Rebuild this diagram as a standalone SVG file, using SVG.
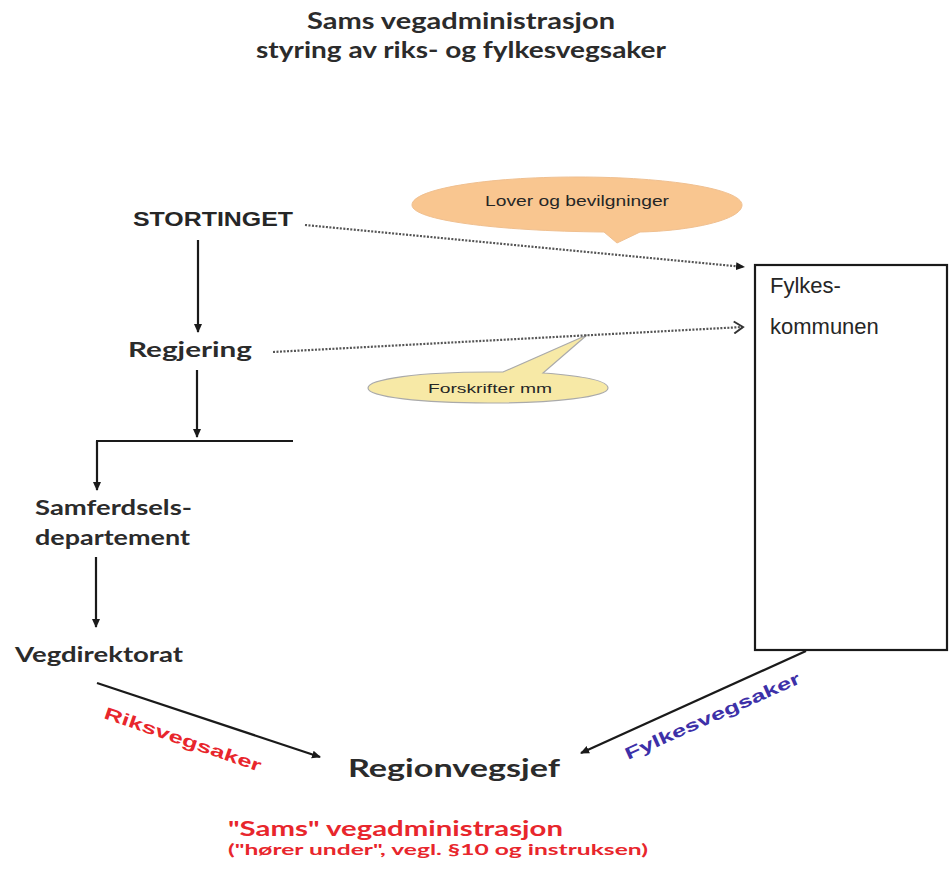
<svg xmlns="http://www.w3.org/2000/svg" width="951" height="881" viewBox="0 0 951 881">
<style>
.t{font-family:"Liberation Sans",Arial,sans-serif;fill:#262626}
.cal{font-family:Lato,"Open Sans",sans-serif;font-weight:bold;fill:#2b2b2b}
.red{fill:#e8262c}
.blue{fill:#3d30a8}
.solid{stroke:#1a1a1a;stroke-width:2.2;fill:none}
.dot{stroke:#555;stroke-width:2.2;fill:none;stroke-dasharray:2 1.5}
</style>
<defs>
<marker id="ah" markerWidth="10" markerHeight="10" refX="8" refY="5" orient="auto" markerUnits="userSpaceOnUse">
<path d="M0,1 L9,5 L0,9 Z" fill="#1a1a1a"/>
</marker>
<marker id="ao" markerWidth="14" markerHeight="14" refX="11" refY="7" orient="auto" markerUnits="userSpaceOnUse">
<path d="M2,1 L11,7 L2,13" fill="none" stroke="#333" stroke-width="2"/>
</marker>
</defs>
<rect width="951" height="881" fill="#fff"/>
<g id="title">
<text class="cal" x="461" y="29" font-size="22" text-anchor="middle" textLength="308" lengthAdjust="spacingAndGlyphs">Sams  vegadministrasjon</text>
<text class="cal" x="461" y="58" font-size="22" text-anchor="middle" textLength="410" lengthAdjust="spacingAndGlyphs">styring av riks- og fylkesvegsaker</text>
</g>
<g id="callout-lover">
<path d="M577,177 C668,177 742,189 742,205 C742,220 690,231 640,232 L617,243 L604,232 C495,231 412,220 412,205 C412,189 486,177 577,177 Z" fill="#f9c690" stroke="#f0c090" stroke-width="1"/>
<text class="t" x="577" y="206" font-size="14" text-anchor="middle" textLength="184" lengthAdjust="spacingAndGlyphs">Lover og bevilgninger</text>
</g>
<g id="callout-forskrifter">
<path d="M488,372 L503,372 L587,335 L543,373 C585,376 608,381 608,388 C608,397 554,403 488,403 C422,403 368,397 368,388 C368,379 420,372 488,372 Z" fill="#f7e9a6" stroke="#aaa" stroke-width="1.2"/>
<text class="t" x="490" y="393" font-size="13" text-anchor="middle" textLength="124" lengthAdjust="spacingAndGlyphs">Forskrifter mm</text>
</g>
<g id="connectors">
<line class="solid" x1="198" y1="240" x2="198" y2="332" marker-end="url(#ah)"/>
<line class="solid" x1="197" y1="370" x2="197" y2="437" marker-end="url(#ah)"/>
<line class="solid" x1="96" y1="441" x2="293" y2="441"/>
<line class="solid" x1="97" y1="441" x2="97" y2="490" marker-end="url(#ah)"/>
<line class="solid" x1="96" y1="557" x2="96" y2="627" marker-end="url(#ah)"/>
<line class="solid" x1="97" y1="683" x2="320" y2="757" marker-end="url(#ah)"/>
<line class="solid" x1="806" y1="651" x2="581" y2="753" marker-end="url(#ah)"/>
<line class="dot" x1="305" y1="225" x2="744" y2="267" marker-end="url(#ah)"/>
<line class="dot" x1="273" y1="352" x2="743" y2="327" marker-end="url(#ao)"/>
</g>
<g id="stortinget">
<text class="t" x="133" y="226" font-size="20" font-weight="bold" textLength="160" lengthAdjust="spacingAndGlyphs">STORTINGET</text>
</g>
<g id="regjering">
<text class="cal" x="128" y="357" font-size="21" textLength="124" lengthAdjust="spacingAndGlyphs">Regjering</text>
</g>
<g id="samferdsel">
<text class="cal" x="35" y="515" font-size="21" textLength="157" lengthAdjust="spacingAndGlyphs">Samferdsels-</text>
<text class="cal" x="35" y="545" font-size="21" textLength="155" lengthAdjust="spacingAndGlyphs">departement</text>
</g>
<g id="vegdirektorat">
<text class="cal" x="15" y="662" font-size="21" textLength="168" lengthAdjust="spacingAndGlyphs">Vegdirektorat</text>
</g>
<g id="fylkeskommunen">
<rect x="755" y="265" width="192" height="385" fill="#fff" stroke="#1a1a1a" stroke-width="2.2"/>
<text class="t" x="770" y="293" font-size="22">Fylkes-</text>
<text class="t" x="770" y="334" font-size="22">kommunen</text>
</g>
<g id="regionvegsjef">
<text class="cal" x="348" y="777" font-size="24" textLength="212" lengthAdjust="spacingAndGlyphs">Regionvegsjef</text>
</g>
<g id="labels">
<text class="t red" font-size="17" font-weight="bold" transform="translate(103,718) rotate(19)" textLength="165" lengthAdjust="spacingAndGlyphs">Riksvegsaker</text>
<text class="t blue" font-size="17" font-weight="bold" transform="translate(628,760) rotate(-24)" textLength="190" lengthAdjust="spacingAndGlyphs">Fylkesvegsaker</text>
</g>
<g id="footer">
<text class="cal red" x="228" y="836" font-size="21" textLength="335" lengthAdjust="spacingAndGlyphs">"Sams" vegadministrasjon</text>
<text class="cal red" x="228" y="855" font-size="15" textLength="420" lengthAdjust="spacingAndGlyphs">("hører under", vegl. §10 og instruksen)</text>
</g>
</svg>
